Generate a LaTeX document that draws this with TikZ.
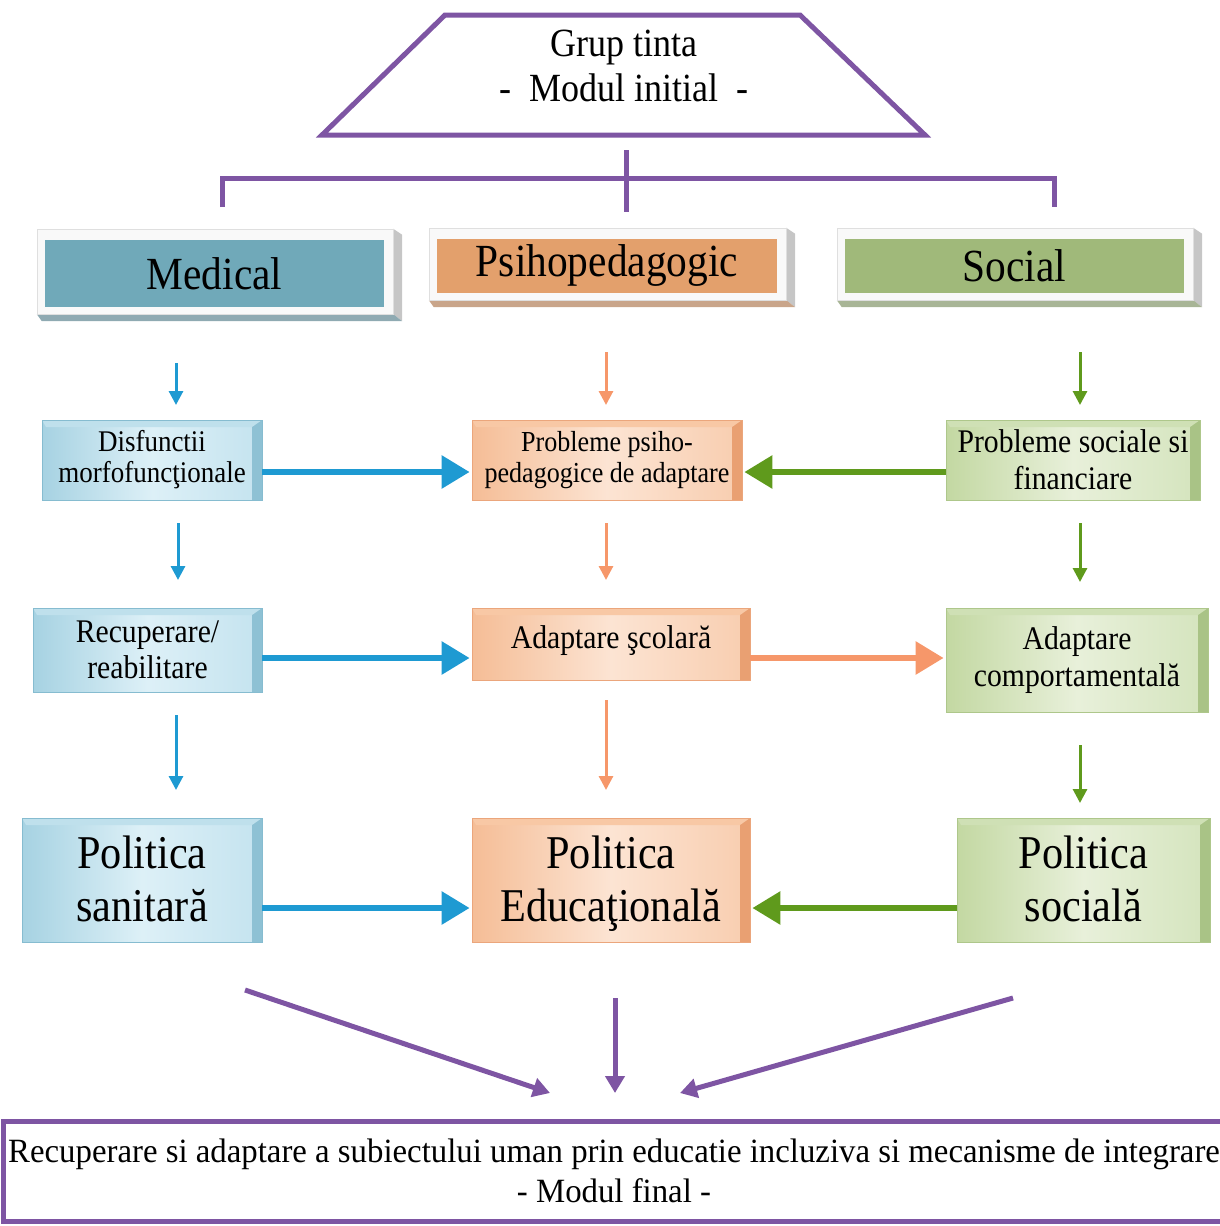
\documentclass[tikz,border=0pt]{standalone}
\usepackage{fontspec}
\setmainfont{Liberation Serif}[FakeStretch=0.9]
\newfontfamily\finfont{Liberation Serif}[FakeStretch=0.965]
\usetikzlibrary{arrows.meta,backgrounds,calc}
\definecolor{purpc}{HTML}{7E55A3}
\definecolor{barc}{HTML}{1E9AD2}
\definecolor{oarc}{HTML}{F6976A}
\definecolor{garc}{HTML}{5F9A1C}
\definecolor{medc}{HTML}{70A9B9}
\definecolor{psyc}{HTML}{E3A06C}
\definecolor{socc}{HTML}{A0B97A}
\definecolor{medd}{HTML}{8FAAB2}
\definecolor{psyd}{HTML}{C9A58A}
\definecolor{socd}{HTML}{A8B596}
\definecolor{blueBd}{HTML}{86BCD0}
\definecolor{blueL}{HTML}{A6D2E2}
\definecolor{blueM}{HTML}{DDF0F7}
\definecolor{blueR}{HTML}{C4E3EF}
\definecolor{blueS}{HTML}{8EC1D4}
\definecolor{blueT}{HTML}{BFE0EC}
\definecolor{orBd}{HTML}{EBA67C}
\definecolor{orL}{HTML}{F5BD96}
\definecolor{orM}{HTML}{FCE4D3}
\definecolor{orR}{HTML}{F8CDAF}
\definecolor{orS}{HTML}{E9A072}
\definecolor{orT}{HTML}{F8C8A5}
\definecolor{grBd}{HTML}{AEC78B}
\definecolor{grL}{HTML}{C3D8A2}
\definecolor{grM}{HTML}{E8F0DA}
\definecolor{grR}{HTML}{D4E4BD}
\definecolor{grS}{HTML}{A9C386}
\definecolor{grT}{HTML}{CFE0B5}
\newcommand\myfs[2]{\fontsize{#1}{#2}\selectfont}
\newcommand\hdeco[2]{%
  \coordinate (#1fnw) at ([xshift=-8pt,yshift=11pt]#1.north west);
  \coordinate (#1fse) at ([xshift=9pt,yshift=-7pt]#1.south east);
  \fill[gray!45] (#1fnw -| #1fse) -- ++(9pt,-6pt) -- ($(#1fse)+(9pt,-7pt)$) -- (#1fse) -- cycle;
  \fill[#2] (#1fnw |- #1fse) -- (#1fse) -- ($(#1fse)+(9pt,-7pt)$) -- ($(#1fnw |- #1fse)+(5pt,-7pt)$) -- cycle;
  \fill[white!95!gray] (#1fnw) rectangle (#1fse);
  \draw[gray!25, line width=0.6pt] (#1fnw) rectangle (#1fse);
}
\tikzset{
  purp/.style={draw=purpc, line width=5pt},
  sarrow/.style={line width=3pt, -{Triangle[length=14pt,width=14pt]}},
  barrow/.style={line width=6pt, -{Triangle[length=28pt,width=32pt]}},
  parrow/.style={draw=purpc, line width=5pt, -{Triangle[length=17pt,width=19pt]}},
  hdr/.style={rectangle, inner sep=0pt, fill=#1, minimum width=340pt, minimum height=55pt, font=\myfs{46}{50}},
  cube/.style n args={6}{rectangle, inner sep=0pt, align=center, draw=#1, line width=0.8pt,
    left color=#2, right color=#4, middle color=#3,
    path picture={
      \fill[#5] ([xshift=-10pt]path picture bounding box.north east) -- (path picture bounding box.north east)
        -- (path picture bounding box.south east) -- ([xshift=-10pt]path picture bounding box.south east) -- cycle;
      \fill[#6] (path picture bounding box.north west) -- (path picture bounding box.north east)
        -- ([xshift=-10pt,yshift=-7pt]path picture bounding box.north east) -- ([xshift=4pt,yshift=-7pt]path picture bounding box.north west) -- cycle;}},
  bluebox/.style={cube={blueBd}{blueL}{blueM}{blueR}{blueS}{blueT}},
  orbox/.style={cube={orBd}{orL}{orM}{orR}{orS}{orT}},
  grbox/.style={cube={grBd}{grL}{grM}{grR}{grS}{grT}},
}
\begin{document}
\begin{tikzpicture}[x=1pt,y=-1pt]
\useasboundingbox (0,0) rectangle (1219,1226);

% top trapezoid
\draw[purp, line join=miter] (445,15) -- (800,15) -- (925,135) -- (322,135) -- cycle;
\node[align=center, font=\myfs{40}{45}] (grup) at (624,66) {Grup tinta\\-~~Modul initial~~-};

% tree connector
\coordinate (tb) at (626,150);
\coordinate (tj) at (626,212);
\coordinate (hl) at (222,207);
\coordinate (hr) at (1054,207);
\draw[purp] (tb) -- (tj);
\draw[purp, line join=miter] (hl) -- (222,178) -- (1054,178) -- (hr);

% headers
\node[hdr=medc, minimum height=67pt, minimum width=339pt] (medh) at (214.5,273.5) {Medical};
\node[hdr=psyc, minimum width=340pt, minimum height=54pt] (psyh) at (607,266) {Psihopedagogic};
\node[hdr=socc, minimum width=339pt, minimum height=54pt] (soch) at (1014.5,266) {Social};
\begin{scope}[on background layer]
  \hdeco{medh}{medd}
  \hdeco{psyh}{psyd}
  \hdeco{soch}{socd}
\end{scope}

% row 1
\node[bluebox, minimum width=220pt, minimum height=80pt, font=\myfs{30}{31}] (dis) at (152,460) {Disfunctii\\morfofuncţionale};
\node[orbox, minimum width=270pt, minimum height=80pt, font=\myfs{29}{31}] (pp) at (607,460) {Probleme psiho-\\pedagogice de adaptare};
\node[grbox, minimum width=254pt, minimum height=80pt, font=\myfs{33}{37}] (ps) at (1073,460) {Probleme sociale si\\financiare};

% row 2
\node[bluebox, minimum width=229pt, minimum height=84pt, font=\myfs{33}{36}] (rec) at (147.5,650) {Recuperare/\\reabilitare};
\node[orbox, minimum width=278pt, minimum height=72pt, font=\myfs{33}{36}, text depth=14pt] (as) at (611,644) {Adaptare şcolară};
\node[grbox, minimum width=262pt, minimum height=104pt, font=\myfs{33}{37}] (ac) at (1077,660) {Adaptare\\comportamentală};

% row 3
\node[bluebox, minimum width=240pt, minimum height=124pt, font=\myfs{47}{53}, text depth=3pt] (psan) at (142,880) {Politica\\sanitară};
\node[orbox, minimum width=278pt, minimum height=124pt, font=\myfs{47}{53}, text depth=3pt] (pe) at (611,880) {Politica\\Educaţională};
\node[grbox, minimum width=253pt, minimum height=124pt, font=\myfs{47}{53}, text depth=3pt] (psoc) at (1083.5,880) {Politica\\socială};

% final box
\node[draw=purpc, line width=5pt, rectangle, inner sep=0pt, minimum width=1222pt, minimum height=100pt,
      align=center, font=\finfont\myfs{34}{40}] (fin) at (614,1171)
      {Recuperare si adaptare a subiectului uman prin educatie incluziva si mecanisme de integrare\\- Modul final -};

% vertical small arrows
\coordinate (b1a) at (176,363); \coordinate (b1b) at (176,405);
\coordinate (b2a) at (178,523); \coordinate (b2b) at (178,580);
\coordinate (b3a) at (176,715); \coordinate (b3b) at (176,790);
\coordinate (o1a) at (606,352); \coordinate (o1b) at (606,405);
\coordinate (o2a) at (606,523); \coordinate (o2b) at (606,580);
\coordinate (o3a) at (606,700); \coordinate (o3b) at (606,790);
\coordinate (g1a) at (1080,352); \coordinate (g1b) at (1080,405);
\coordinate (g2a) at (1080,523); \coordinate (g2b) at (1080,582);
\coordinate (g3a) at (1080,745); \coordinate (g3b) at (1080,803);
\draw[sarrow, draw=barc, fill=barc] (b1a) -- (b1b);
\draw[sarrow, draw=barc, fill=barc] (b2a) -- (b2b);
\draw[sarrow, draw=barc, fill=barc] (b3a) -- (b3b);
\draw[sarrow, draw=oarc, fill=oarc] (o1a) -- (o1b);
\draw[sarrow, draw=oarc, fill=oarc] (o2a) -- (o2b);
\draw[sarrow, draw=oarc, fill=oarc] (o3a) -- (o3b);
\draw[sarrow, draw=garc, fill=garc] (g1a) -- (g1b);
\draw[sarrow, draw=garc, fill=garc] (g2a) -- (g2b);
\draw[sarrow, draw=garc, fill=garc] (g3a) -- (g3b);

% horizontal arrows
\draw[barrow, draw=barc, shorten >=2pt] ([yshift=-12pt]dis.east) -- ([yshift=-12pt]dis.east -| pp.west);
\draw[barrow, draw=garc, shorten >=2pt] ([yshift=-12pt]ps.west) -- ([yshift=-12pt]ps.west -| pp.east);
\draw[barrow, draw=barc, shorten >=2pt] ([yshift=-8pt]rec.east) -- ([yshift=-8pt]rec.east -| as.west);
\draw[barrow, draw=oarc, shorten >=2pt] ([yshift=-14pt]as.east) -- ([yshift=-14pt]as.east -| ac.west);
\draw[barrow, draw=barc, shorten >=2pt] ([yshift=-28pt]psan.east) -- ([yshift=-28pt]psan.east -| pe.west);
\draw[barrow, draw=garc, shorten >=2pt] ([yshift=-28pt]psoc.west) -- ([yshift=-28pt]psoc.west -| pe.east);

% purple arrows to final box
\coordinate (d1a) at (245,990); \coordinate (d1b) at (550,1093);
\coordinate (d2a) at (615,998); \coordinate (d2b) at (615,1093);
\coordinate (d3a) at (1013,998); \coordinate (d3b) at (680,1093);
\draw[parrow] (d1a) -- (d1b);
\draw[parrow] (d2a) -- (d2b);
\draw[parrow] (d3a) -- (d3b);
\end{tikzpicture}
\end{document}
